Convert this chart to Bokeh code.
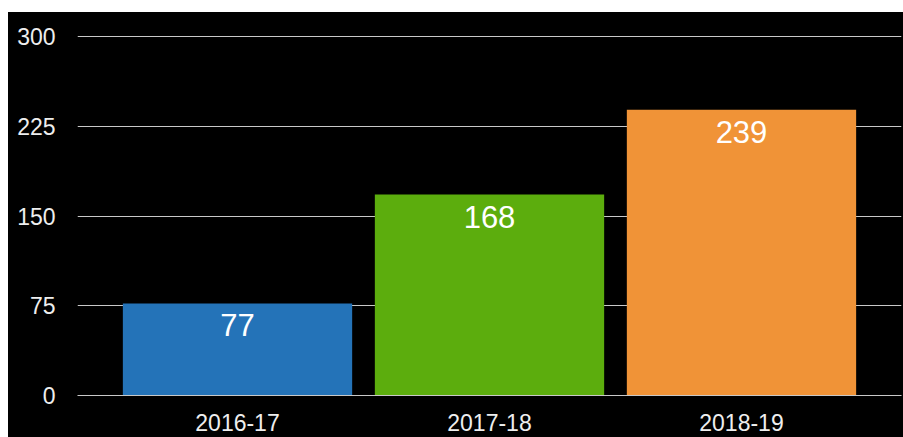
from bokeh.plotting import figure
from bokeh.models import ColumnDataSource, FactorRange, Range1d, FixedTicker
from bokeh.core.properties import value
from bokeh.embed import file_html
from bokeh.resources import INLINE

categories = ["2016-17", "2017-18", "2018-19"]
counts = [77, 168, 239]
colors = ["#2473b8", "#5cad0d", "#f09337"]
y_ticks = [0, 75, 150, 225, 300]

src = ColumnDataSource(dict(cat=categories, val=counts, color=colors,
                            label=[str(v) for v in counts]))

p = figure(width=895, height=425, output_backend="svg", toolbar_location=None,
           x_range=FactorRange(factors=categories, range_padding=0.135,
                               range_padding_units="absolute"),
           y_range=Range1d(0, 301),
           background_fill_color="black", border_fill_color="black",
           min_border_left=69, min_border_right=2, min_border_top=23,
           min_border_bottom=42)
p.margin = (12, 0, 0, 8)
p.styles = {"background-color": "black"}
p.outline_line_color = None

p.vbar(x="cat", top="val", width=0.91, source=src, fill_color="color",
       line_color=None)
p.text(x="cat", y="val", text="label", source=src, text_align="center",
       text_baseline="middle", y_offset=22, text_color="white",
       text_font=value("Liberation Sans"), text_font_size="31px")

font = "Liberation Sans"
p.yaxis.ticker = FixedTicker(ticks=y_ticks)
p.yaxis.axis_line_color = None
p.yaxis.major_tick_line_color = None
p.yaxis.minor_tick_line_color = None
p.yaxis.major_tick_out = 0
p.yaxis.major_tick_in = 0
p.yaxis.major_label_standoff = 22
p.xaxis.axis_line_color = "#c8c8c8"
p.xaxis.axis_line_width = 1
p.xaxis.major_tick_line_color = None
p.xaxis.major_tick_out = 0
p.xaxis.major_tick_in = 0
p.xaxis.major_label_standoff = 18
for ax in (p.xaxis, p.yaxis):
    ax.major_label_text_font = font
    ax.major_label_text_font_size = "23px"
    ax.major_label_text_color = "#eeeeee"

p.xgrid.grid_line_color = None
p.ygrid.grid_line_color = "#c8c8c8"
p.ygrid.grid_line_width = 1

open("out.html", "w").write(file_html(p, INLINE))
